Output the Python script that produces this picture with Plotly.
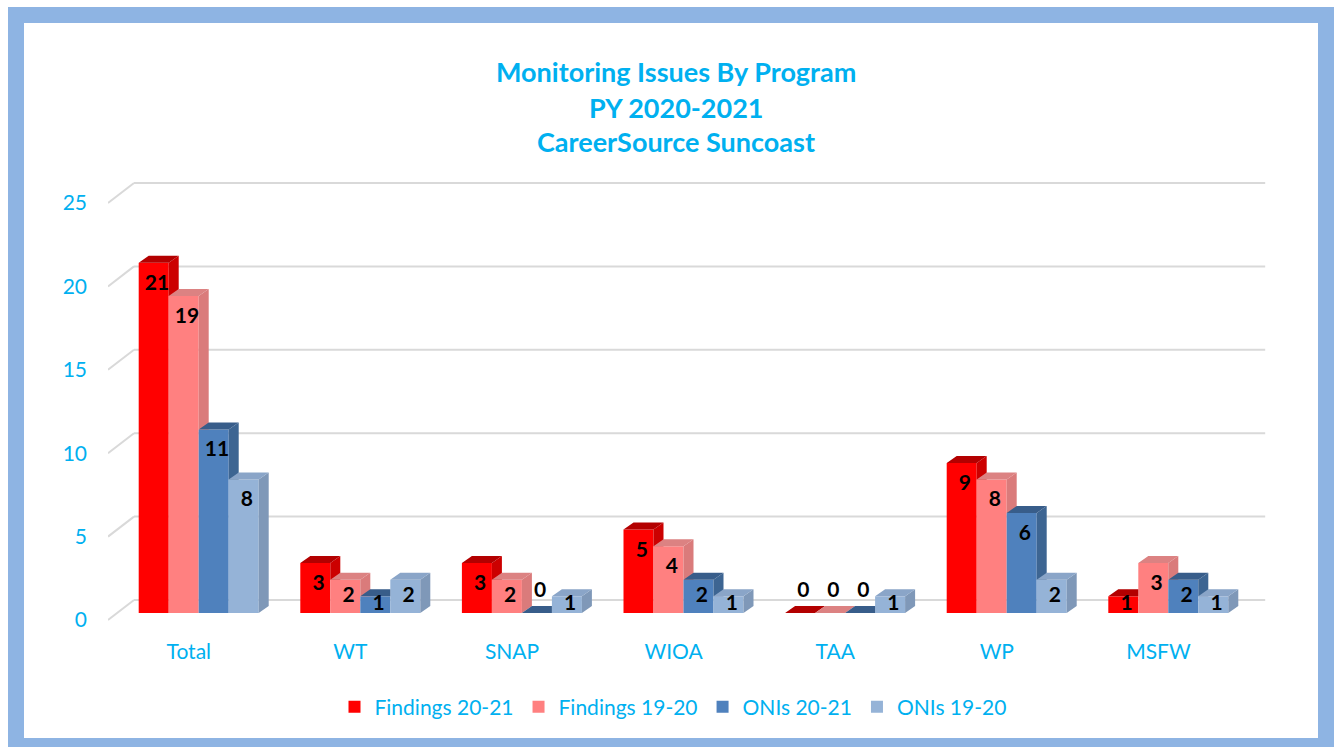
import plotly.graph_objects as go

# ---------------- data ----------------
categories = ["Total", "WT", "SNAP", "WIOA", "TAA", "WP", "MSFW"]
findings_20_21 = [21, 3, 3, 5, 0, 9, 1]
findings_19_20 = [19, 2, 2, 4, 0, 8, 3]
onis_20_21 = [11, 1, 0, 2, 0, 6, 2]
onis_19_20 = [8, 2, 1, 1, 1, 2, 1]
series_names = ["Findings 20-21", "Findings 19-20", "ONIs 20-21", "ONIs 19-20"]
y_tick_values = [0, 5, 10, 15, 20, 25]
title_lines = ["Monitoring Issues By Program", "PY 2020-2021", "CareerSource Suncoast"]

series_values = [findings_20_21, findings_19_20, onis_20_21, onis_19_20]

# ---------------- styling / geometry ----------------
W, H = 1335, 747
ML, MR, MT, MB = 108, 47, 170, 117
PX_X = 161.6      # pixels per category
PX_Y = 16.68      # pixels per unit
ZERO_PX = 613     # pixel row of value 0 (bar front base)
plot_w = W - ML - MR
plot_h = H - MT - MB
x_range = [-0.5, -0.5 + plot_w / PX_X]
y_range = [-(H - MB - ZERO_PX) / PX_Y, (ZERO_PX - MT) / PX_Y]

BW = 30 / PX_X                      # bar width in x units
OFFSETS = [-0.31 + k * BW for k in range(4)]
DX, DY = 10 / PX_X, 7 / PX_Y        # bar depth
WALL_DX = 26 / PX_X
WALL_BACK = 13 / PX_Y               # back wall rise
WALL_FRONT = -7 / PX_Y              # front floor edge

front_cols = ["#FF0000", "#FF8080", "#4F81BD", "#95B3D7"]
side_cols = ["#CC0000", "#DA7B7B", "#3D6592", "#7F98B8"]
top_cols = ["#B30000", "#DC8282", "#385D8A", "#8AA5C8"]
TXT = "#00B0F0"
FONT = "Lato"


def px2paper_x(px):
    return (px - ML) / plot_w


def px2paper_y(py):
    return (H - MB - py) / plot_h


def clip(poly, axis, val, keep_ge):
    """Sutherland-Hodgman clip of polygon against half plane."""
    out = []
    n = len(poly)
    for i in range(n):
        a, b = poly[i], poly[(i + 1) % n]
        ina = (a[axis] >= val) if keep_ge else (a[axis] <= val)
        inb = (b[axis] >= val) if keep_ge else (b[axis] <= val)
        if ina:
            out.append(a)
        if ina != inb:
            t = (val - a[axis]) / (b[axis] - a[axis])
            out.append((a[0] + t * (b[0] - a[0]), a[1] + t * (b[1] - a[1])))
    return out


def add_polys(xs, ys, polys):
    for p in polys:
        if len(p) < 3:
            continue
        for (px, py) in p:
            xs.append(px)
            ys.append(py)
        xs.append(p[0][0])
        ys.append(p[0][1])
        xs.append(None)
        ys.append(None)


fig = go.Figure()

# front faces as real bars
for k, name in enumerate(series_names):
    fig.add_trace(go.Bar(
        x=list(range(len(categories))), y=series_values[k], name=name,
        width=BW, offset=OFFSETS[k],
        marker=dict(color=front_cols[k], line=dict(width=0)),
        hoverinfo="skip",
    ))

# side and top faces (3D effect)
for k in range(4):
    sx, sy, tx, ty = [], [], [], []
    for i in range(len(categories)):
        v = series_values[k][i]
        L = i + OFFSETS[k]
        R = L + BW
        vn = series_values[k + 1][i] if k < 3 else None
        side = [(R, 0), (R + DX, DY), (R + DX, v + DY), (R, v)]
        top = [(L, v), (R, v), (R + DX, v + DY), (L + DX, v + DY)]
        if vn is not None:
            side = clip(side, 1, vn, True)
            tops = [clip(top, 0, R, False),
                    clip(clip(top, 0, R, True), 1, vn, True)]
        else:
            tops = [top]
        if v > 0:
            add_polys(sx, sy, [side])
        add_polys(tx, ty, tops)
    fig.add_trace(go.Scatter(x=sx, y=sy, mode="lines", fill="toself",
                             fillcolor=side_cols[k], line=dict(width=0, color=side_cols[k]),
                             showlegend=False, hoverinfo="skip"))
    fig.add_trace(go.Scatter(x=tx, y=ty, mode="lines", fill="toself",
                             fillcolor=top_cols[k], line=dict(width=0, color=top_cols[k]),
                             showlegend=False, hoverinfo="skip"))

# data labels
for k in range(4):
    lx, ly, lt = [], [], []
    for i in range(len(categories)):
        v = series_values[k][i]
        lx.append(i + OFFSETS[k] + BW / 2 + 0.02)
        ly.append(v - min(1.3, 0.5 * v) if v > 0 else 1.25)
        lt.append(str(v))
    fig.add_trace(go.Scatter(x=lx, y=ly, text=lt, mode="text",
                             textfont=dict(family=FONT, size=21, color="#000000", weight="bold"),
                             showlegend=False, hoverinfo="skip", cliponaxis=False))

# gridlines on back wall + left diagonals
shapes = []
for v in y_tick_values:
    shapes.append(dict(type="line", xref="x", yref="y", layer="below",
                       x0=-0.5, y0=v + WALL_FRONT, x1=-0.5 + WALL_DX, y1=v + WALL_BACK,
                       line=dict(color="#D9D9D9", width=2)))
    shapes.append(dict(type="line", xref="x", yref="y", layer="below",
                       x0=-0.5 + WALL_DX, y0=v + WALL_BACK,
                       x1=len(categories) - 0.5 + WALL_DX, y1=v + WALL_BACK,
                       line=dict(color="#D9D9D9", width=2)))

# outer border
shapes.append(dict(type="rect", xref="paper", yref="paper", layer="above",
                   x0=px2paper_x(16), x1=px2paper_x(1326),
                   y0=px2paper_y(746), y1=px2paper_y(15),
                   line=dict(color="#8EB4E3", width=16), fillcolor="rgba(0,0,0,0)"))

annotations = []
for j, (line, py) in enumerate(zip(title_lines, [71, 107, 142])):
    annotations.append(dict(text=line, xref="paper", yref="paper",
                            x=px2paper_x(676), y=px2paper_y(py),
                            xanchor="center", yanchor="middle", showarrow=False,
                            font=dict(family=FONT, size=27, color=TXT, weight="bold")))

fig.update_layout(
    width=W, height=H,
    margin=dict(l=ML, r=MR, t=MT, b=MB, pad=0),
    paper_bgcolor="white", plot_bgcolor="white",
    barmode="overlay",
    showlegend=True,
    legend=dict(orientation="h", x=px2paper_x(673), xanchor="center",
                y=px2paper_y(707), yanchor="middle",
                font=dict(family=FONT, size=21, color=TXT),
                bgcolor="rgba(0,0,0,0)", itemwidth=30, traceorder="normal"),
    xaxis=dict(range=x_range, tickmode="array", tickvals=list(range(len(categories))),
               ticktext=categories, showgrid=False, zeroline=False, showline=False,
               ticks="", tickfont=dict(family=FONT, size=21, color=TXT),
               ticklabelstandoff=7, fixedrange=True),
    yaxis=dict(range=y_range, tickmode="array",
               tickvals=[v + WALL_FRONT for v in y_tick_values],
               ticktext=[str(v) for v in y_tick_values],
               showgrid=False, zeroline=False, showline=False, ticks="",
               tickfont=dict(family=FONT, size=21, color=TXT),
               ticklabelstandoff=20, fixedrange=True),
    shapes=shapes,
    annotations=annotations,
    font=dict(family=FONT),
)

fig.write_html("out.html", config={"displayModeBar": False},
               post_script="document.body.style.margin='0';")
